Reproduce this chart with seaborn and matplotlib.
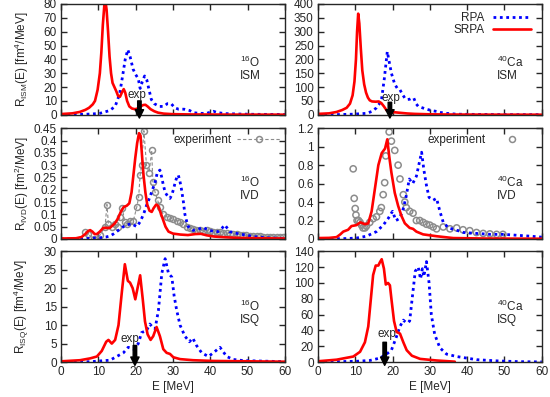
import numpy as np
import pandas as pd
import matplotlib
matplotlib.use("Agg")
import matplotlib.pyplot as plt
import seaborn as sns
from matplotlib.lines import Line2D

sns.set_style("ticks")
plt.rcParams['font.family'] = ['Liberation Sans', 'DejaVu Sans']
plt.rcParams['font.size'] = 8.5

RED = '#ff0000'
BLUE = '#0000ff'
GREY = '#8c8c8c'

# ---------------- 16O ISM ----------------
o_ism_srpa_E = [0, 3, 5, 6.5, 7.5, 8.5, 9.1, 9.8, 10.4, 10.8, 11.2, 11.6, 11.9, 12.2, 12.6, 13.0, 13.4, 13.8, 14.3, 14.8, 15.3, 15.8, 16.3, 16.8, 17.2, 17.7, 18.3, 19.0, 19.8, 20.6, 21.3, 22.0, 22.6, 23.2, 24.0, 25.0, 26.0, 27.5, 30, 35, 45, 60]
o_ism_srpa_R = [0.5, 1, 2, 3.5, 5, 7.5, 10, 18, 30, 45, 65, 79, 82, 76, 60, 42, 30, 23, 20, 17, 13.5, 13, 16, 18.5, 16, 10, 6, 4.5, 4, 4.5, 6, 7, 7.2, 6, 4, 2.5, 1.5, 0.8, 0.4, 0.2, 0.1, 0.05]
o_ism_rpa_E = [0, 5, 8, 10.4, 13, 14.5, 15.7, 16.5, 17.2, 17.9, 18.5, 19.3, 20, 20.7, 21.2, 21.8, 22.4, 23.0, 23.5, 24.2, 25, 26.3, 27.5, 28.5, 29.5, 30.5, 31.5, 33, 34.5, 35.5, 37, 39, 40.8, 42, 44, 48, 52, 60]
o_ism_rpa_R = [0, 0.2, 0.5, 1, 3, 6, 15, 28, 40, 47, 42, 33, 29, 26, 19, 24, 28, 25, 19, 11, 8, 6, 6, 8, 8, 5, 4, 4, 3, 1.5, 1, 1, 2.5, 1.5, 0.8, 0.5, 0.3, 0.2]

# ---------------- 40Ca ISM ----------------
ca_ism_srpa_E = [0, 3, 5, 6.5, 7.7, 8.6, 9.3, 9.8, 10.2, 10.5, 10.8, 11.1, 11.5, 11.9, 12.4, 12.9, 13.4, 13.9, 14.5, 15.5, 16.3, 17.0, 17.7, 18.4, 19.2, 20.5, 22, 24, 26, 30, 35, 45, 60]
ca_ism_srpa_R = [3, 5, 10, 17, 25, 40, 70, 120, 200, 300, 365, 330, 240, 160, 110, 80, 62, 52, 48, 47, 48, 42, 30, 16, 11, 9, 7, 4.5, 3, 1.5, 0.8, 0.3, 0.1]
ca_ism_rpa_E = [0, 5, 9.5, 13.0, 14.5, 15.7, 16.5, 17.1, 17.8, 18.6, 19.2, 19.7, 20.6, 21.3, 22.0, 22.6, 23.3, 24.0, 24.6, 25.2, 25.7, 26.3, 26.9, 28, 29.1, 30.5, 31.8, 33, 34.5, 37.2, 40, 45, 50, 60]
ca_ism_rpa_R = [0, 0.5, 2, 5, 12, 25, 40, 60, 130, 228, 185, 150, 110, 95, 90, 75, 60, 55, 56, 60, 60, 40, 30, 25, 20, 15, 12, 8, 5, 2, 1.5, 1, 0.5, 0.2]

# ---------------- 16O IVD ----------------
o_ivd_srpa_E = [0, 4, 5.5, 6.5, 7.3, 7.8, 8.4, 9.0, 9.6, 10.4, 11.3, 12.2, 13.1, 13.8, 14.5, 15.3, 16.0, 16.8, 17.6, 18.3, 18.9, 19.4, 19.9, 20.4, 20.9, 21.3, 21.7, 22.1, 22.6, 23.1, 23.7, 24.3, 24.8, 25.5, 26.0, 26.6, 27.3, 28, 28.8, 30, 32, 34, 36, 37.5, 39, 41, 44, 48, 60]
o_ivd_srpa_R = [0.002, 0.003, 0.008, 0.02, 0.033, 0.036, 0.03, 0.02, 0.02, 0.03, 0.045, 0.045, 0.045, 0.055, 0.065, 0.085, 0.11, 0.13, 0.135, 0.145, 0.19, 0.26, 0.33, 0.39, 0.43, 0.42, 0.34, 0.26, 0.19, 0.14, 0.115, 0.11, 0.125, 0.14, 0.135, 0.11, 0.08, 0.05, 0.03, 0.022, 0.018, 0.016, 0.02, 0.021, 0.015, 0.01, 0.007, 0.004, 0.002]
o_ivd_rpa_E = [0, 6, 8, 10.4, 12, 13.1, 14.0, 14.9, 15.8, 16.7, 17.8, 19.0, 19.7, 20.3, 21.2, 22.1, 23.0, 23.8, 24.5, 25.2, 25.8, 26.5, 27.0, 27.4, 27.9, 28.3, 28.8, 29.2, 29.7, 30.1, 30.6, 31.0, 31.4, 31.8, 32.3, 32.8, 33.2, 33.7, 34.1, 35.4, 36.8, 38.1, 39.0, 39.9, 41, 42.1, 43.2, 43.9, 44.5, 45.2, 46.5, 47.9, 50, 51.5, 55, 60]
o_ivd_rpa_R = [0, 0.001, 0.003, 0.005, 0.008, 0.012, 0.02, 0.03, 0.04, 0.05, 0.058, 0.062, 0.055, 0.05, 0.07, 0.1, 0.14, 0.17, 0.2, 0.23, 0.27, 0.28, 0.25, 0.22, 0.19, 0.18, 0.17, 0.165, 0.18, 0.2, 0.23, 0.25, 0.26, 0.24, 0.2, 0.15, 0.1, 0.07, 0.05, 0.035, 0.04, 0.047, 0.04, 0.035, 0.03, 0.03, 0.045, 0.057, 0.045, 0.03, 0.025, 0.02, 0.015, 0.01, 0.005, 0.002]
o_ivd_exp_E = [6.4, 7.3, 8.7, 10.4, 11.8, 12.3, 12.7, 13.6, 14.5, 15.3, 15.8, 16.4, 17.1, 17.8, 18.5, 19.4, 20.3, 20.8, 21.2, 21.6, 22.2, 22.9, 23.6, 24.3, 24.6, 25.2, 25.9, 26.5, 27.4, 28.3, 29.2, 30.1, 31.0, 31.9, 32.8, 33.7, 34.6, 35.4, 36.3, 37.2, 38.1, 39.0, 39.9, 40.8, 41.7, 42.6, 43.5, 44.4, 45.3, 46.2, 47.1, 47.9, 48.8, 49.7, 50.6, 51.5, 52.4, 53.3, 54.2, 55.1, 56.0, 56.9, 57.8, 58.7, 59.6]
o_ivd_exp_R = [0.03, 0.02, 0.0, 0.015, 0.05, 0.14, 0.06, 0.05, 0.06, 0.05, 0.09, 0.125, 0.07, 0.06, 0.075, 0.075, 0.13, 0.17, 0.26, 0.3, 0.44, 0.3, 0.27, 0.36, 0.23, 0.19, 0.157, 0.128, 0.1, 0.09, 0.085, 0.08, 0.075, 0.07, 0.06, 0.05, 0.045, 0.04, 0.037, 0.035, 0.034, 0.035, 0.032, 0.03, 0.028, 0.027, 0.025, 0.024, 0.022, 0.02, 0.019, 0.018, 0.016, 0.015, 0.014, 0.013, 0.012, 0.011, 0.01, 0.01, 0.009, 0.008, 0.008, 0.007, 0.007]

# ---------------- 40Ca IVD ----------------
ca_ivd_srpa_E = [0, 3, 5.0, 6.0, 6.8, 8.1, 9.0, 10.3, 11.4, 12.6, 13.5, 14.4, 15.3, 16.2, 17.1, 18.0, 18.6, 19.1, 19.7, 20.6, 21.5, 22.4, 23.3, 24.6, 25.5, 26.4, 28.2, 31.8, 36.3, 45, 60]
ca_ivd_srpa_R = [0.01, 0.012, 0.02, 0.05, 0.08, 0.1, 0.14, 0.15, 0.18, 0.16, 0.17, 0.3, 0.55, 0.8, 0.93, 0.98, 1.08, 0.9, 0.72, 0.5, 0.36, 0.25, 0.17, 0.12, 0.11, 0.08, 0.05, 0.03, 0.01, 0.005, 0.003]
ca_ivd_rpa_E = [0, 7.7, 10.3, 13, 15.7, 17.5, 18.8, 20.0, 20.9, 21.8, 22.7, 23.6, 24.5, 25.4, 26.4, 27.3, 27.8, 28.4, 29.1, 29.8, 30.9, 31.8, 32.7, 33.6, 35.0, 36.8, 39.1, 42.7, 46.3, 49.9, 53.5, 57.1, 60]
ca_ivd_rpa_R = [0, 0.005, 0.01, 0.03, 0.08, 0.15, 0.22, 0.3, 0.2, 0.22, 0.3, 0.45, 0.65, 0.6, 0.68, 0.85, 0.94, 0.75, 0.58, 0.45, 0.42, 0.44, 0.3, 0.18, 0.12, 0.1, 0.07, 0.06, 0.05, 0.05, 0.04, 0.03, 0.02]
ca_ivd_exp_E = [9.46, 9.73, 10.0, 10.2, 10.5, 10.9, 11.3, 11.7, 12.1, 12.6, 13.0, 13.9, 14.8, 15.7, 16.6, 17.0, 17.5, 17.9, 18.2, 19.1, 19.7, 20.6, 21.5, 22.0, 22.9, 23.3, 23.7, 24.6, 25.5, 26.4, 27.3, 28.2, 29.1, 30.0, 30.9, 31.8, 33.6, 35.4, 37.2, 38.9, 40.7, 42.5, 44.3, 46.1, 47.9, 49.6]
ca_ivd_exp_R = [0.76, 0.44, 0.33, 0.26, 0.2, 0.2, 0.18, 0.15, 0.12, 0.12, 0.14, 0.18, 0.22, 0.24, 0.3, 0.34, 0.48, 0.61, 0.9, 1.16, 1.06, 0.96, 0.8, 0.65, 0.48, 0.4, 0.34, 0.3, 0.28, 0.2, 0.2, 0.18, 0.16, 0.15, 0.13, 0.11, 0.13, 0.11, 0.12, 0.1, 0.09, 0.07, 0.06, 0.055, 0.05, 0.05]

# ---------------- 16O ISQ ----------------
o_isq_srpa_E = [0, 5.1, 7.8, 9.6, 10.9, 12.1, 12.7, 13.6, 14.5, 15.4, 16.3, 17.1, 17.9, 18.5, 19.2, 19.9, 20.5, 21.2, 21.9, 22.5, 23.2, 24.0, 24.7, 25.6, 26.5, 27.4, 28.3, 29.2, 30.1, 31.9, 35.4, 40.8, 60]
o_isq_srpa_R = [0.2, 0.5, 1, 1.5, 3, 5.5, 6, 5, 6, 10, 19, 26.5, 22, 21.5, 20, 17, 20, 23.5, 17, 11, 7.5, 6, 7, 9.5, 7, 3.5, 2.5, 2.2, 1.3, 0.8, 0.5, 0.3, 0.1]
o_isq_rpa_E = [0, 8, 10.4, 13.1, 14.9, 16.7, 18.0, 19.4, 20.7, 21.6, 22.9, 23.8, 24.5, 25.2, 26.1, 27.0, 27.9, 28.8, 29.7, 30.3, 31.0, 31.9, 33.2, 34.4, 35.3, 36.3, 37.7, 39.5, 40.8, 42.6, 44.4, 46.2, 48.8, 60]
o_isq_rpa_R = [0, 0.1, 0.3, 0.5, 1.5, 2.5, 4, 3.5, 5, 8, 8.5, 10.3, 9.5, 9, 14, 24, 28, 24, 23, 18, 14, 10, 7, 5.5, 6.5, 4.5, 2.5, 1.5, 2.5, 4, 1.5, 0.7, 0.4, 0.1]

# ---------------- 40Ca ISQ ----------------
ca_isq_srpa_E = [0, 5.0, 9.5, 11.3, 12.6, 13.5, 14.2, 14.8, 15.5, 16.2, 16.6, 17.1, 17.7, 18.2, 18.8, 19.3, 19.7, 20.4, 21.1, 22.0, 22.9, 23.8, 25.2, 27.4, 31.8, 36.7]
ca_isq_srpa_R = [1, 3, 7, 13, 25, 45, 80, 110, 122, 122, 126, 130, 118, 98, 100, 97, 80, 52, 38, 36, 25, 15, 8, 4, 2, 0.5]
ca_isq_rpa_E = [0, 5.0, 10.3, 13.9, 16.6, 18.4, 19.7, 20.9, 22.0, 22.9, 23.6, 24.2, 24.6, 25.5, 26.1, 26.9, 27.5, 28.0, 28.4, 29.1, 29.8, 30.4, 31.3, 32.7, 34.5, 37.2, 39.9, 42.6, 48.0, 54.1, 60]
ca_isq_rpa_R = [0, 0.5, 1, 2, 5, 10, 15, 30, 45, 53, 50, 50, 52, 90, 115, 120, 105, 118, 108, 127, 100, 60, 35, 18, 10, 7, 5, 3, 1.5, 0.5, 0.2]

# experimental centroid arrows (E, arrow top, label x, label y)
exp_arrows = {
    'o_ism': (21.0, 10, 20.4, 14.5),
    'ca_ism': (19.3, 45, 19.7, 60),
    'o_isq': (19.8, 4.5, 18.5, 6.3),
    'ca_isq': (17.9, 25, 18.6, 36),
}

ylabels = [r"R$_\mathregular{ISM}$(E) [fm$^\mathregular{4}$/MeV]",
           r"R$_\mathregular{IVD}$(E) [fm$^\mathregular{2}$/MeV]",
           r"R$_\mathregular{ISQ}$(E) [fm$^\mathregular{4}$/MeV]"]

fig = plt.figure(figsize=(5.5, 3.97), dpi=100)
xl = [0.111, 0.578]
w = 0.407
yb = [0.711, 0.398, 0.088]
h = 0.279
axes = [[fig.add_axes([xl[c], yb[r], w, h]) for c in range(2)] for r in range(3)]

def draw(ax, rE, rR, sE, sR):
    sns.lineplot(x=rE, y=rR, ax=ax, color=BLUE, lw=2.0, linestyle=(0, (1, 1.3)), sort=False)
    sns.lineplot(x=sE, y=sR, ax=ax, color=RED, lw=1.9, sort=False)

draw(axes[0][0], o_ism_rpa_E, o_ism_rpa_R, o_ism_srpa_E, o_ism_srpa_R)
draw(axes[0][1], ca_ism_rpa_E, ca_ism_rpa_R, ca_ism_srpa_E, ca_ism_srpa_R)
# experiment 16O IVD
sns.lineplot(x=o_ivd_exp_E, y=o_ivd_exp_R, ax=axes[1][0], color=GREY, lw=0.8, linestyle=(0, (3, 2)),
             marker='o', mfc='none', mec=GREY, mew=1.1, ms=4.3, sort=False)
sns.scatterplot(x=ca_ivd_exp_E, y=ca_ivd_exp_R, ax=axes[1][1], marker='o', s=20,
                facecolor='none', edgecolor=GREY, linewidth=1.1)
draw(axes[1][0], o_ivd_rpa_E, o_ivd_rpa_R, o_ivd_srpa_E, o_ivd_srpa_R)
draw(axes[1][1], ca_ivd_rpa_E, ca_ivd_rpa_R, ca_ivd_srpa_E, ca_ivd_srpa_R)
draw(axes[2][0], o_isq_rpa_E, o_isq_rpa_R, o_isq_srpa_E, o_isq_srpa_R)
draw(axes[2][1], ca_isq_rpa_E, ca_isq_rpa_R, ca_isq_srpa_E, ca_isq_srpa_R)

ylims = [[(0, 80, 10), (0, 400, 50)], [(0, 0.45, 0.05), (0, 1.2, 0.2)], [(0, 30, 5), (0, 140, 20)]]
nuclei = [r"$^\mathregular{16}$O", r"$^\mathregular{40}$Ca"]
modes = ["ISM", "IVD", "ISQ"]
ann_y = [0.42, 0.455, 0.45]
for r in range(3):
    for c in range(2):
        ax = axes[r][c]
        lo, hi, st = ylims[r][c]
        ax.set_xlim(0, 60)
        ax.set_ylim(lo, hi)
        ax.set_xticks(range(0, 61, 10))
        yt = np.round(np.arange(lo, hi + st / 2, st), 3)
        ax.set_yticks(yt)
        ax.set_yticklabels([('%g' % v) for v in yt])
        ax.tick_params(direction='in', top=True, right=True, length=4, width=1, labelsize=8.5, pad=3)
        for s in ax.spines.values():
            s.set_linewidth(1.0)
            s.set_visible(True)
        if r < 2:
            ax.set_xticklabels([])
        ax.set_xlabel('')
        ax.set_ylabel('')
        ax.text(0.8, ann_y[r], nuclei[c] + "\n" + modes[r], transform=ax.transAxes,
                ha='left', va='center', fontsize=8.5, linespacing=1.0)
    axes[r][0].set_ylabel(ylabels[r], fontsize=8.5)
    axes[r][0].yaxis.set_label_coords(-0.135, 0.5)

for c in range(2):
    axes[2][c].set_xlabel("E [MeV]", fontsize=8.5)
    axes[2][c].xaxis.set_label_coords(0.5, -0.175)

for key, ax in [('o_ism', axes[0][0]), ('ca_ism', axes[0][1]), ('o_isq', axes[2][0]), ('ca_isq', axes[2][1])]:
    E, top, tx, ty = exp_arrows[key]
    lo, hi = ax.get_ylim()
    ax.annotate('', xy=(E, lo - 0.03 * (hi - lo)), xytext=(E, top),
                arrowprops=dict(facecolor='black', edgecolor='black', width=2.5, headwidth=6,
                                headlength=6, shrink=0), annotation_clip=False)
    ax.text(tx, ty, "exp", ha='center', va='center', fontsize=8.5)

# legends
h_rpa = Line2D([], [], color=BLUE, lw=2.0, linestyle=(0, (1, 1.3)))
h_srpa = Line2D([], [], color=RED, lw=1.9)
axes[0][1].legend([h_rpa, h_srpa], ["RPA", "SRPA"], loc='upper right', bbox_to_anchor=(0.95, 0.925),
                  frameon=False, markerfirst=False, handlelength=3.2, handletextpad=0.7,
                  labelspacing=0.0, borderpad=0, borderaxespad=0, fontsize=8.5)
h_exp1 = Line2D([], [], color=GREY, lw=0.8, linestyle=(0, (3, 2)), marker='o', mfc='none', mec=GREY, mew=1.1, ms=4.3)
axes[1][0].legend([h_exp1], ["experiment"], loc='upper right', bbox_to_anchor=(0.98, 0.95),
                  frameon=False, markerfirst=False, handlelength=3.7, handletextpad=0.4,
                  borderpad=0, borderaxespad=0, fontsize=8.5, numpoints=1)
h_exp2 = Line2D([], [], color=GREY, lw=0, marker='o', mfc='none', mec=GREY, mew=1.1, ms=4.3)
axes[1][1].legend([h_exp2], ["experiment"], loc='upper right', bbox_to_anchor=(0.95, 0.95),
                  frameon=False, markerfirst=False, handlelength=3.2, handletextpad=0.6,
                  borderpad=0, borderaxespad=0, fontsize=8.5, numpoints=1)

fig.savefig("out.png", dpi=100)
